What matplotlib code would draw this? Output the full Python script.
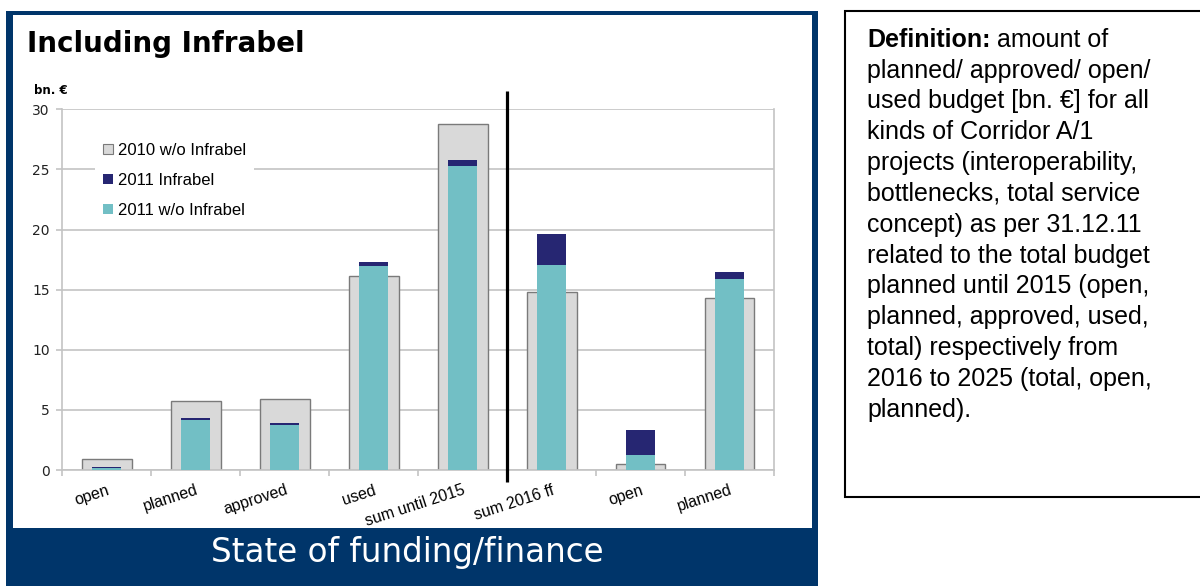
import matplotlib
matplotlib.use("Agg")
import matplotlib.pyplot as plt
from matplotlib.patches import Rectangle, Patch
import numpy as np

# valeurs (bn. €)
categories = ["open", "planned", "approved", "used", "sum until 2015",
              "sum 2016 ff", "open", "planned"]
w_o_infrabel_2010 = [0.92, 5.77, 5.88, 16.14, 28.8, 14.78, 0.47, 14.28]
w_o_infrabel_2011 = [0.2, 4.15, 3.75, 17.0, 25.3, 17.05, 1.25, 15.9]
infrabel_2011 = [0.05, 0.17, 0.17, 0.28, 0.5, 2.6, 2.1, 0.55]
y_ticks = [0, 5, 10, 15, 20, 25, 30]

definition_lines = [
    "planned/ approved/ open/",
    "used budget [bn. €] for all",
    "kinds of Corridor A/1",
    "projects (interoperability,",
    "bottlenecks, total service",
    "concept) as per 31.12.11",
    "related to the total budget",
    "planned until 2015 (open,",
    "planned, approved, used,",
    "total) respectively from",
    "2016 to 2025 (total, open,",
    "planned).",
]

# couleurs
frame_blue = "#00356a"
gray_fill = "#d9d9d9"
gray_edge = "#7a7a7a"
teal = "#72bfc5"
navy = "#262672"
grid_col = "#c4c4c4"

W, H = 1200, 586
fig = plt.figure(figsize=(W / 100, H / 100), dpi=100)


def fx(px):
    return px / W


def fy(py):
    # py compté depuis le haut
    return 1 - py / H


# cadre bleu + zone blanche
fig.patches.append(Rectangle((fx(6), 0), fx(812), fy(11), transform=fig.transFigure,
                             facecolor=frame_blue, edgecolor="none", zorder=-10))
fig.patches.append(Rectangle((fx(13), fy(528)), fx(799), (528 - 15) / H, transform=fig.transFigure,
                             facecolor="white", edgecolor="none", zorder=-9))
# boîte de définition (le bord droit sort de l'image)
fig.patches.append(Rectangle((fx(845), fy(497)), fx(400), (497 - 11) / H, transform=fig.transFigure,
                             facecolor="white", edgecolor="black", linewidth=1.5, zorder=-9))

# axes du graphique
ax = fig.add_axes([fx(62.3), fy(470), fx(711.7), 360.7 / H])
ax.set_facecolor("none")
x = np.arange(len(categories))

ax.bar(x, w_o_infrabel_2010, width=0.56, color=gray_fill, edgecolor=gray_edge,
       linewidth=1.0, zorder=2)
ax.bar(x, w_o_infrabel_2011, width=0.33, color=teal, edgecolor="none", zorder=3)
ax.bar(x, infrabel_2011, width=0.33, bottom=w_o_infrabel_2011, color=navy,
       edgecolor="none", zorder=3)

# séparation 2015 / 2016 ff
ax.vlines(4.5, -1.0, 31.5, color="black", linewidth=2.3, clip_on=False, zorder=5)

ax.set_xlim(-0.5, len(categories) - 0.5)
ax.set_ylim(0, 30)
ax.set_yticks(y_ticks)
ax.set_yticklabels([str(v) for v in y_ticks], fontsize=10, family="DejaVu Sans", color="#222222")
ax.yaxis.grid(True, color=grid_col, linewidth=1.2, zorder=0)
ax.set_axisbelow(True)

ax.set_xticks(x)
ax.set_xticklabels(categories, rotation=18, ha="right", rotation_mode="anchor",
                   fontsize=11.5, family="Liberation Sans")
ax.set_xticks(np.arange(len(categories) + 1) - 0.5, minor=True)
ax.tick_params(axis="x", which="major", length=0, pad=9)
ax.tick_params(axis="x", which="minor", length=4, color=grid_col, width=1.2)
ax.tick_params(axis="y", length=4, color=grid_col, width=1.2, pad=5)

for side in ["left", "right", "bottom"]:
    ax.spines[side].set_color(grid_col)
    ax.spines[side].set_linewidth(1.2)
ax.spines["top"].set_visible(False)

handles = [
    Patch(facecolor=gray_fill, edgecolor=gray_edge, linewidth=0.8, label="2010 w/o Infrabel"),
    Patch(facecolor=navy, edgecolor="none", label="2011 Infrabel"),
    Patch(facecolor=teal, edgecolor="none", label="2011 w/o Infrabel"),
]
leg = ax.legend(handles=handles, loc="upper left", bbox_to_anchor=(0.046, 0.93),
                borderaxespad=0, frameon=True, fancybox=False, framealpha=1,
                facecolor="white", edgecolor="none", prop={"family": "Liberation Sans", "size": 12},
                handlelength=0.6, handleheight=0.6, handletextpad=0.25,
                labelspacing=0.9, borderpad=0.5)
leg.set_zorder(6)

# textes
fig.text(fx(26.7), fy(51.7), "Including Infrabel", fontsize=20, fontweight="bold",
         family="DejaVu Sans", va="baseline", ha="left")
fig.text(fx(33.7), fy(90.7), "bn. €", fontsize=8.5, fontweight="bold",
         family="DejaVu Sans", va="center", ha="left")
fig.text(fx(407), fy(562), "State of funding/finance", fontsize=23.5, color="white",
         family="DejaVu Sans", va="baseline", ha="center")

fig.text(fx(867), fy(46.7), "Definition:", fontsize=18, fontweight="bold",
         family="Liberation Sans", va="baseline", ha="left")
fig.text(fx(997), fy(46.7), "amount of", fontsize=18,
         family="Liberation Sans", va="baseline", ha="left")
for i, line in enumerate(definition_lines):
    fig.text(fx(867), fy(46.7 + (i + 1) * 30.83), line, fontsize=18,
             family="Liberation Sans", va="baseline", ha="left")

fig.savefig("out.png", dpi=100)
